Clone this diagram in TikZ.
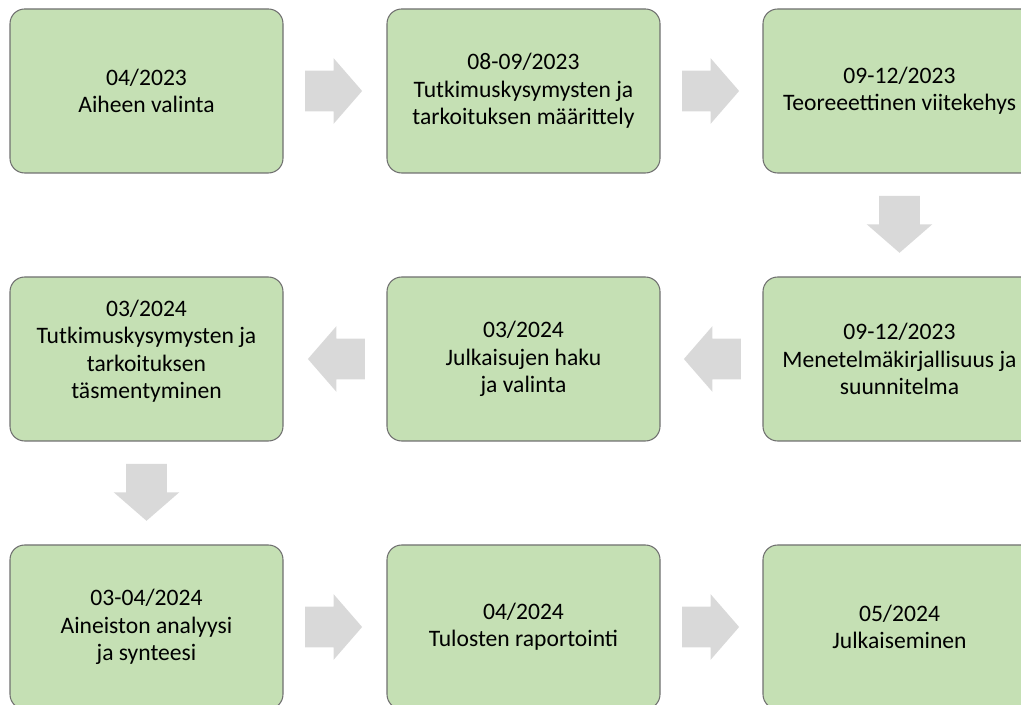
\documentclass[tikz,border=0pt]{standalone}
\usepackage{fontspec}
\setmainfont{Carlito}
\usepackage{xcolor}
\usetikzlibrary{shapes.arrows, positioning, calc}
\definecolor{phasegreen}{RGB}{197,224,180}
\definecolor{phaseline}{RGB}{112,112,112}
\definecolor{stepgray}{RGB}{217,217,217}

\begin{document}
\begin{tikzpicture}[
    x=0.75pt, y=-0.75pt,
    phase/.style={rectangle, rounded corners=11pt, draw=phaseline, line width=0.8pt, fill=phasegreen, align=center, minimum width=204.75pt, minimum height=123pt, inner sep=0pt, font=\fontsize{17.7}{20.5}\selectfont},
    flow/.style={single arrow, fill=stepgray, draw=none, minimum height=42.75pt, inner xsep=0pt, inner ysep=15pt, single arrow head extend=9.4pt, single arrow tip angle=98, anchor=tail},
    flowright/.style={flow},
    flowleft/.style={flow, shape border rotate=180},
    flowdown/.style={flow, shape border rotate=270, inner xsep=15pt, inner ysep=0pt}
]
    \useasboundingbox (0,0) rectangle (1021,705);
    \clip (0,0) rectangle (1021,705);

    % Row 1
    \node[phase] (topic) at (146.5, 91) {04/2023\\Aiheen valinta};
    \node[phase] (questions) at (523.5, 91) {08-09/2023\\Tutkimuskysymysten ja\\tarkoituksen määrittely};
    \node[phase] (theory) at (899.5, 91) {09-12/2023\\Teoreeettinen viitekehys};

    % Row 2
    \node[phase] (method) at (899.5, 359) {09-12/2023\\Menetelmäkirjallisuus ja\\suunnitelma};
    \node[phase] (search) at (523.5, 359) {03/2024\\Julkaisujen haku\\ja valinta};
    \node[phase] (refine) at (146.5, 359) {03/2024\\Tutkimuskysymysten ja\\tarkoituksen\\täsmentyminen\\[-6pt]~};

    % Row 3
    \node[phase] (analysis) at (146.5, 627) {03-04/2024\\Aineiston analyysi\\ja synteesi};
    \node[phase] (report) at (523.5, 627) {04/2024\\Tulosten raportointi};
    \node[phase] (publish) at (899.5, 627) {05/2024\\Julkaiseminen};

    % Block arrows between phases
    \node[flowright, right=16pt of topic, anchor=tail] (a1) {};
    \node[flowright, right=16pt of questions, anchor=tail] (a2) {};
    \node[flowdown, below=16.5pt of theory, anchor=tail] (a3) {};
    \node[flowleft, left=16pt of method, anchor=tail] (a4) {};
    \node[flowleft, left=16pt of search, anchor=tail] (a5) {};
    \node[flowdown, below=16.5pt of refine, anchor=tail] (a6) {};
    \node[flowright, right=16pt of analysis, anchor=tail] (a7) {};
    \node[flowright, right=16pt of report, anchor=tail] (a8) {};

\end{tikzpicture}
\end{document}
